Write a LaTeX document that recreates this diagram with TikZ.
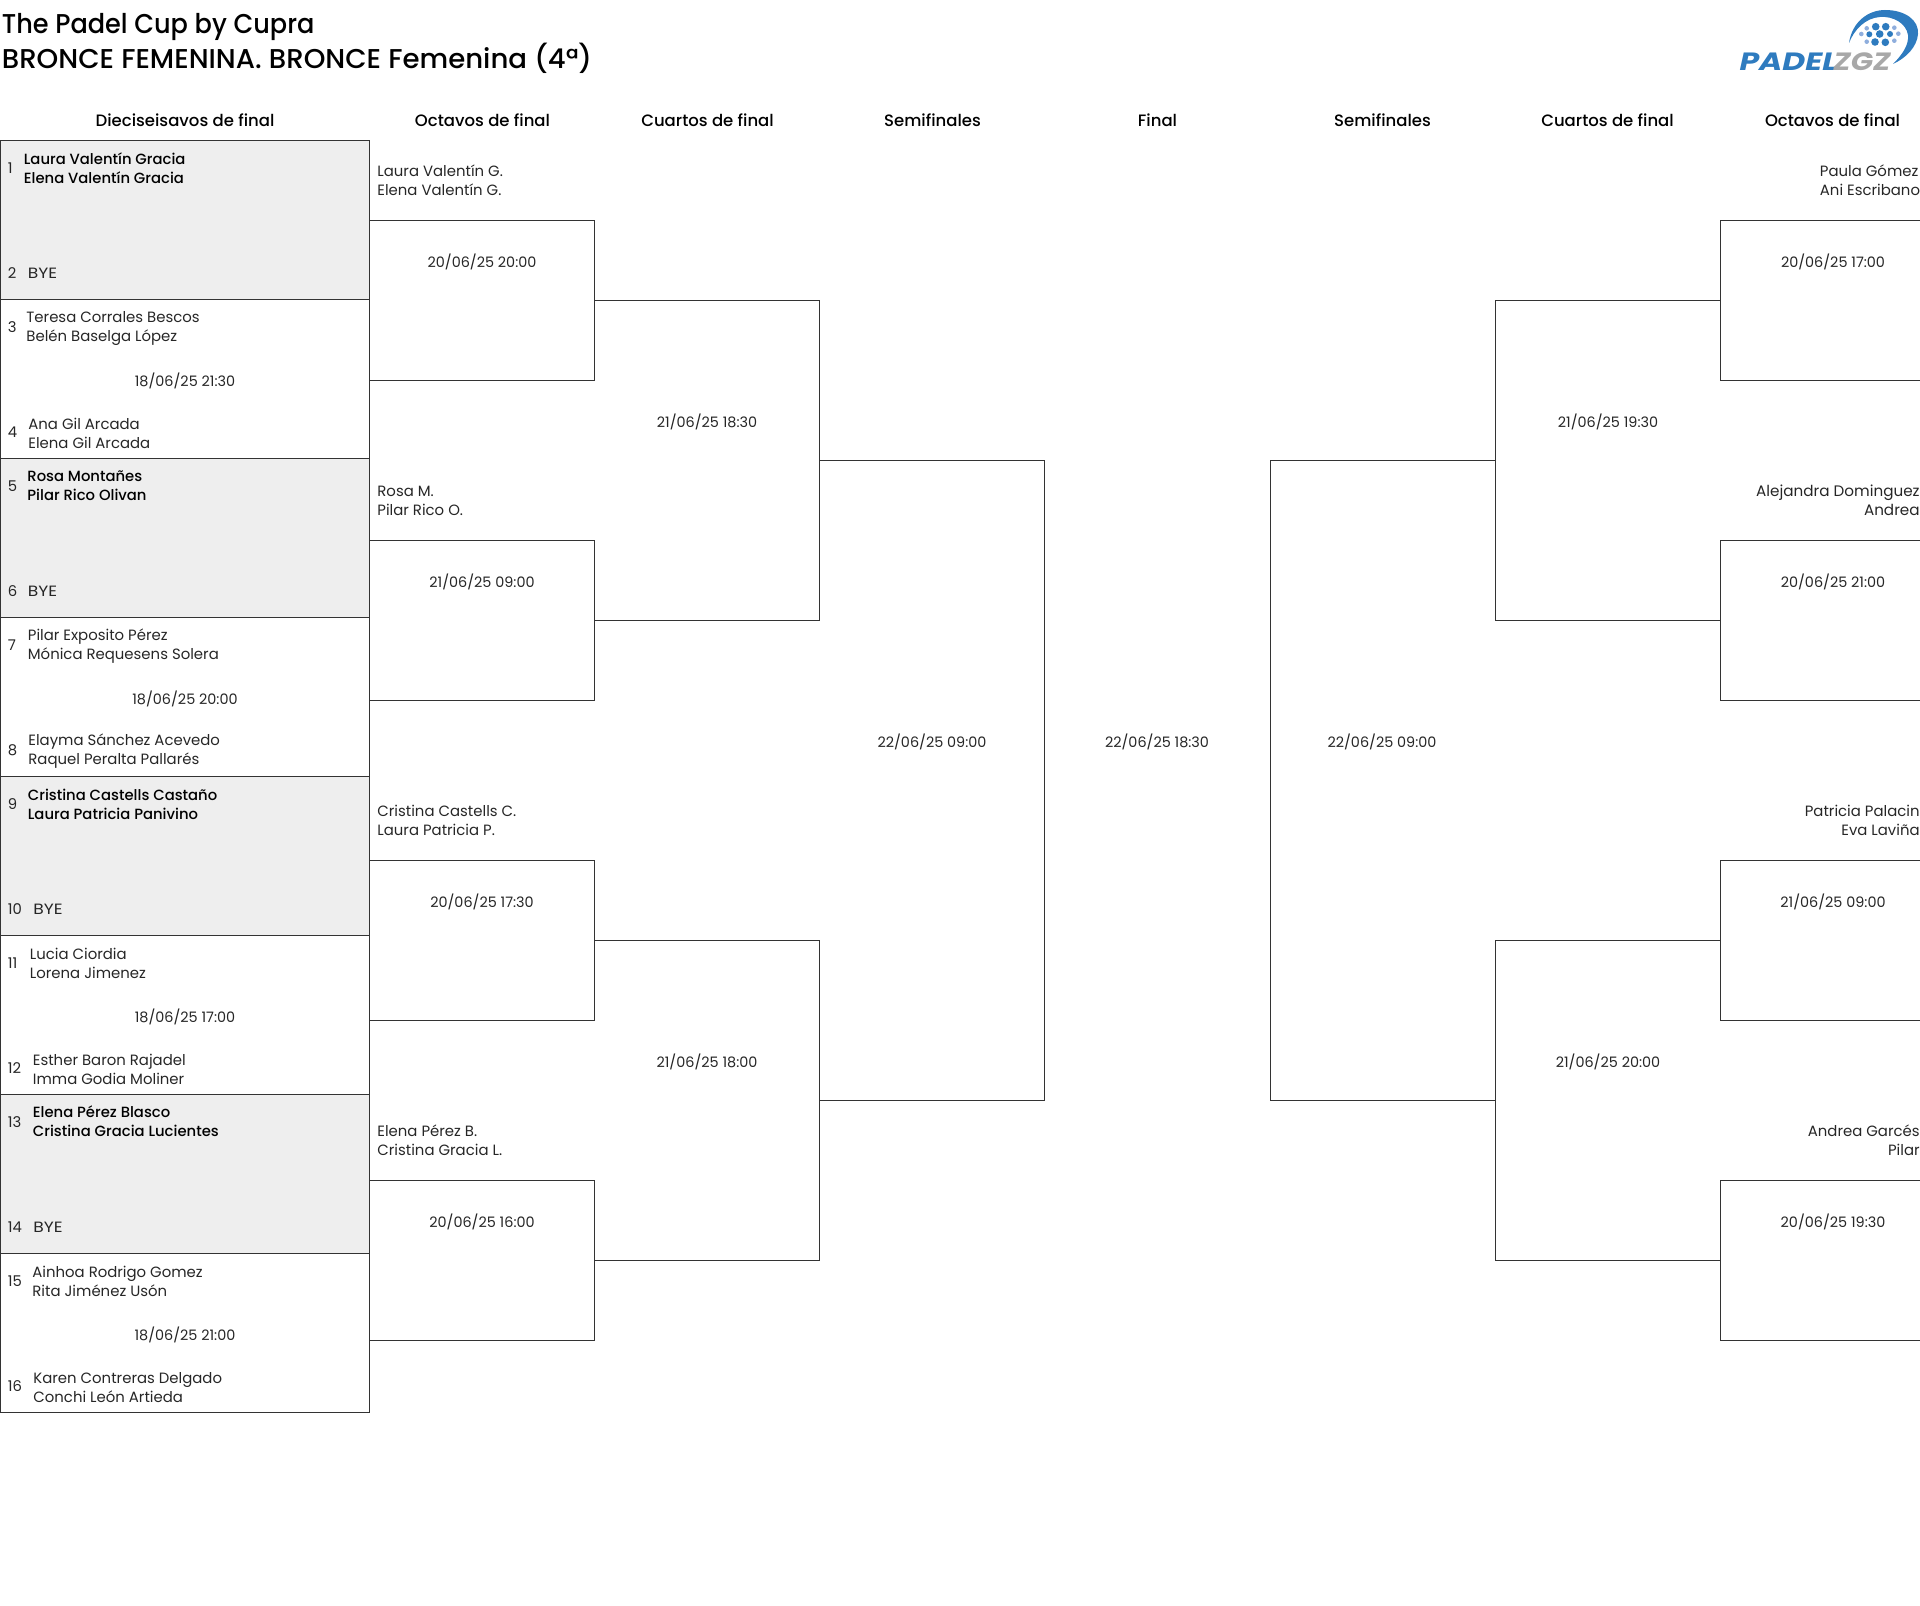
\documentclass[tikz,border=0pt]{standalone}
\usepackage{fontspec}
\setmainfont{Poppins}
\newfontfamily\medfont{Poppins Medium}
\definecolor{linegray}{HTML}{333333}
\definecolor{byegray}{HTML}{EEEEEE}
\definecolor{padelblue}{HTML}{2E7BBF}
\definecolor{padellight}{HTML}{8FAEDD}
\definecolor{padelgray}{HTML}{A8A8A8}
\tikzset{
  titletxt/.style={anchor=west,inner sep=0pt,font=\medfont\fontsize{13.6}{15}\selectfont,text=black},
  headtxt/.style={inner sep=0pt,font=\medfont\fontsize{8.25}{10}\selectfont,text=black},
  nametxt/.style={anchor=west,inner sep=0pt,align=left,font=\fontsize{7.45}{9.5}\selectfont,text=black!85},
  byetxt/.style={anchor=west,inner sep=0pt,xscale=1.15,font=\fontsize{7.45}{9.5}\selectfont,text=black!85},
  winnertxt/.style={anchor=west,inner sep=0pt,align=left,font=\medfont\fontsize{7.4}{9.5}\selectfont,text=black},
  datetxt/.style={inner sep=0pt,font=\fontsize{7.2}{9.5}\selectfont,text=black!85},
  seedtxt/.style={anchor=west,inner sep=0pt,font=\fontsize{7.4}{9.5}\selectfont,text=black!85},
  bracketline/.style={draw=linegray,line width=0.5pt},
  rowbox/.style={draw=linegray,line width=0.5pt},
  bigdot/.style={fill=padelblue,draw=none},
  smalldot/.style={fill=padellight,draw=none}
}
\begin{document}
\begin{tikzpicture}[x=0.5pt,y=-0.5pt]
\useasboundingbox (0,0) rectangle (1920,1605);
\clip (0,0) rectangle (1920,1605);

% title
\node[titletxt,xscale=0.94] (title1) at (1.5,27) {The Padel Cup by Cupra};
\node[titletxt,xscale=1.015] (title2) at (1.5,58) {BRONCE FEMENINA. BRONCE Femenina (4ª)};

% logo
\fill[padelblue] (1849,43) .. controls (1852,22) and (1868,10) .. (1885,10)
  .. controls (1905,10) and (1919,20) .. (1918,34)
  .. controls (1917,47) and (1906,58) .. (1893,64)
  .. controls (1902,55) and (1909,45) .. (1908,35)
  .. controls (1906,23) and (1893,16) .. (1880,17)
  .. controls (1865,18) and (1854,30) .. (1849,43) -- cycle;
\fill[smalldot] (1866.7,28.3) circle (2.3);
\fill[bigdot] (1875.7,26.7) circle (3.8);
\fill[bigdot] (1885.7,26.7) circle (3.8);
\fill[smalldot] (1894.3,27.7) circle (2.3);
\fill[smalldot] (1861.3,34) circle (2.3);
\fill[bigdot] (1869.3,34.3) circle (3);
\fill[bigdot] (1879.7,34) circle (3.8);
\fill[bigdot] (1890,34) circle (3);
\fill[smalldot] (1898.3,33.7) circle (2.3);
\fill[smalldot] (1866.7,41.7) circle (2.3);
\fill[bigdot] (1875,42) circle (3.8);
\fill[bigdot] (1885.3,42.3) circle (3.8);
\fill[smalldot] (1894.3,40.7) circle (2.3);
\node[anchor=base west,inner sep=0pt,text=padelblue,font=\fontsize{12.5}{14}\selectfont\bfseries\itshape,xscale=1.26] (logopadel) at (1739,70.5) {PADEL};
\node[anchor=base west,inner sep=0pt,text=padelgray,font=\fontsize{12.5}{14}\selectfont\bfseries\itshape,xscale=1.17] (logozgz) at (1833,70.5) {ZGZ};

% headers
\node[headtxt] (h1) at (185,120) {Dieciseisavos de final};
\node[headtxt] (h2) at (482.5,120) {Octavos de final};
\node[headtxt] (h3) at (707.5,120) {Cuartos de final};
\node[headtxt] (h4) at (932.5,120) {Semifinales};
\node[headtxt] (h5) at (1157.5,120) {Final};
\node[headtxt] (h6) at (1382.5,120) {Semifinales};
\node[headtxt] (h7) at (1607.5,120) {Cuartos de final};
\node[headtxt] (h8) at (1832.5,120) {Octavos de final};

% first round rows
\draw[rowbox,fill=byegray] (0.5,141) rectangle (369.5,299.9);
\draw[rowbox] (0.5,299.9) rectangle (369.5,458.8);
\draw[rowbox,fill=byegray] (0.5,458.8) rectangle (369.5,617.7);
\draw[rowbox] (0.5,617.7) rectangle (369.5,776.6);
\draw[rowbox,fill=byegray] (0.5,776.6) rectangle (369.5,935.5);
\draw[rowbox] (0.5,935.5) rectangle (369.5,1094.4);
\draw[rowbox,fill=byegray] (0.5,1094.4) rectangle (369.5,1253.3);
\draw[rowbox] (0.5,1253.3) rectangle (369.5,1412.3);

\node[seedtxt] (s1) at (7.5,168) {1};
\node[winnertxt] (p1) at (23.5,168) {Laura Valentín Gracia\\Elena Valentín Gracia};
\node[seedtxt] (s2) at (7.5,273) {2};
\node[byetxt] (p2) at (27.5,273) {BYE};
\node[seedtxt] (s3) at (7.5,327) {3};
\node[nametxt] (p3) at (26,328) {Teresa Corrales Bescos\\Belén Baselga López};
\node[datetxt] (d1) at (185,380.5) {18/06/25 21:30};
\node[seedtxt] (s4) at (7.5,432) {4};
\node[nametxt] (p4) at (28,433.5) {Ana Gil Arcada\\Elena Gil Arcada};
\node[seedtxt] (s5) at (7.5,486) {5};
\node[winnertxt] (p5) at (27,486) {Rosa Montañes\\Pilar Rico Olivan};
\node[seedtxt] (s6) at (7.5,591) {6};
\node[byetxt] (p6) at (27.5,591) {BYE};
\node[seedtxt] (s7) at (7.5,645) {7};
\node[nametxt] (p7) at (27.5,646) {Pilar Exposito Pérez\\Mónica Requesens Solera};
\node[datetxt] (d2) at (185,698.5) {18/06/25 20:00};
\node[seedtxt] (s8) at (7.5,750) {8};
\node[nametxt] (p8) at (28,751.5) {Elayma Sánchez Acevedo\\Raquel Peralta Pallarés};
\node[seedtxt] (s9) at (7.5,804) {9};
\node[winnertxt] (p9) at (27.5,804) {Cristina Castells Castaño\\Laura Patricia Panivino};
\node[seedtxt] (s10) at (7.5,909) {10};
\node[byetxt] (p10) at (33,909) {BYE};
\node[seedtxt] (s11) at (7.5,963) {11};
\node[nametxt] (p11) at (29.5,963.5) {Lucia Ciordia\\Lorena Jimenez};
\node[datetxt] (d3) at (185,1016.5) {18/06/25 17:00};
\node[seedtxt] (s12) at (7.5,1068) {12};
\node[nametxt] (p12) at (32.5,1069.5) {Esther Baron Rajadel\\Imma Godia Moliner};
\node[seedtxt] (s13) at (7.5,1122) {13};
\node[winnertxt] (p13) at (32.5,1121.5) {Elena Pérez Blasco\\Cristina Gracia Lucientes};
\node[seedtxt] (s14) at (7.5,1227) {14};
\node[byetxt] (p14) at (33,1227) {BYE};
\node[seedtxt] (s15) at (7.5,1281) {15};
\node[nametxt] (p15) at (32,1281.5) {Ainhoa Rodrigo Gomez\\Rita Jiménez Usón};
\node[datetxt] (d4) at (185,1334.5) {18/06/25 21:00};
\node[seedtxt] (s16) at (7.5,1386) {16};
\node[nametxt] (p16) at (33,1387.5) {Karen Contreras Delgado\\Conchi León Artieda};

% left brackets
\draw[bracketline] (369.5,220.5) -- (594.5,220.5) -- (594.5,380) -- (369.5,380);
\draw[bracketline] (369.5,540) -- (594.5,540) -- (594.5,700.5) -- (369.5,700.5);
\draw[bracketline] (369.5,860.5) -- (594.5,860.5) -- (594.5,1020.5) -- (369.5,1020.5);
\draw[bracketline] (369.5,1180.5) -- (594.5,1180.5) -- (594.5,1340.5) -- (369.5,1340.5);
\draw[bracketline] (594.5,300) -- (819.5,300) -- (819.5,620) -- (594.5,620);
\draw[bracketline] (594.5,940.5) -- (819.5,940.5) -- (819.5,1260.5) -- (594.5,1260.5);
\draw[bracketline] (819.5,460.5) -- (1044.5,460.5) -- (1044.5,1100.5) -- (819.5,1100.5);

% right brackets
\draw[bracketline] (1945,220.5) -- (1720.5,220.5) -- (1720.5,380) -- (1945,380);
\draw[bracketline] (1945,540) -- (1720.5,540) -- (1720.5,700.5) -- (1945,700.5);
\draw[bracketline] (1945,860.5) -- (1720.5,860.5) -- (1720.5,1020.5) -- (1945,1020.5);
\draw[bracketline] (1945,1180.5) -- (1720.5,1180.5) -- (1720.5,1340.5) -- (1945,1340.5);
\draw[bracketline] (1720.5,300) -- (1495.5,300) -- (1495.5,620) -- (1720.5,620);
\draw[bracketline] (1720.5,940.5) -- (1495.5,940.5) -- (1495.5,1260.5) -- (1720.5,1260.5);
\draw[bracketline] (1495.5,460.5) -- (1270.5,460.5) -- (1270.5,1100.5) -- (1495.5,1100.5);

% second round names, left
\node[nametxt] (q1) at (377,180.5) {Laura Valentín G.\\Elena Valentín G.};
\node[nametxt] (q2) at (377,500.5) {Rosa M.\\Pilar Rico O.};
\node[nametxt] (q3) at (377,820.5) {Cristina Castells C.\\Laura Patricia P.};
\node[nametxt] (q4) at (377,1140.5) {Elena Pérez B.\\Cristina Gracia L.};

% second round names, right (run off the page)
\node[nametxt] (q5) at (1819.5,180.5) {Paula Gómez\\Ani Escribano};
\node[nametxt,align=right,anchor=east,font=\fontsize{7.6}{9.5}\selectfont] (q6) at (1920,500.5) {Alejandra Dominguez\\Andrea};
\node[nametxt,align=right,anchor=east] (q7) at (1920,820.5) {Patricia Palacin\\Eva Laviña};
\node[nametxt,align=right,anchor=east] (q8) at (1920,1140.5) {Andrea Garcés\\Pilar};

% dates
\node[datetxt] (d5) at (482,261.5) {20/06/25 20:00};
\node[datetxt] (d6) at (482,581.5) {21/06/25 09:00};
\node[datetxt] (d7) at (482,901.5) {20/06/25 17:30};
\node[datetxt] (d8) at (482,1221.5) {20/06/25 16:00};
\node[datetxt] (d9) at (707,421.5) {21/06/25 18:30};
\node[datetxt] (d10) at (707,1061.5) {21/06/25 18:00};
\node[datetxt] (d11) at (932,741.5) {22/06/25 09:00};
\node[datetxt] (d12) at (1157,741.5) {22/06/25 18:30};
\node[datetxt] (d13) at (1382,741.5) {22/06/25 09:00};
\node[datetxt] (d14) at (1608,421.5) {21/06/25 19:30};
\node[datetxt] (d15) at (1608,1061.5) {21/06/25 20:00};
\node[datetxt] (d16) at (1833,261.5) {20/06/25 17:00};
\node[datetxt] (d17) at (1833,581.5) {20/06/25 21:00};
\node[datetxt] (d18) at (1833,901.5) {21/06/25 09:00};
\node[datetxt] (d19) at (1833,1221.5) {20/06/25 19:30};

\end{tikzpicture}
\end{document}
